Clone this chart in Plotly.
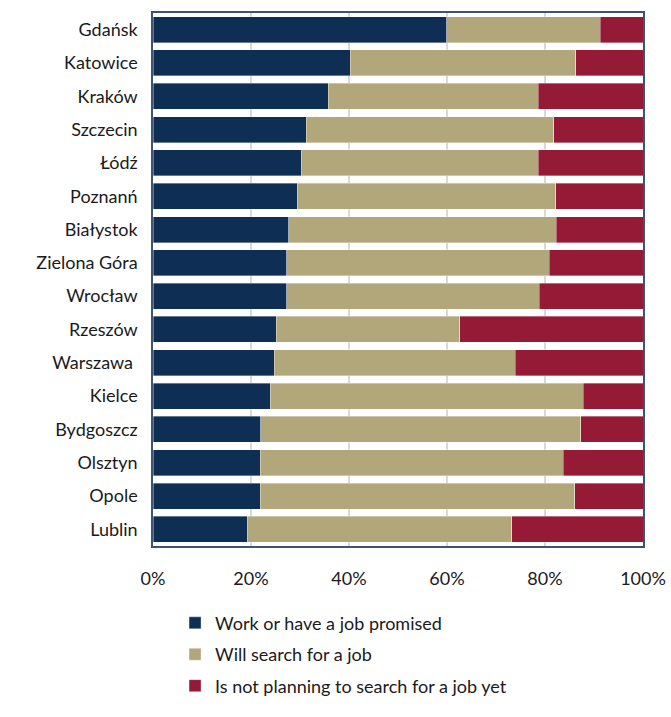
import plotly.graph_objects as go

cities = ["Gdańsk", "Katowice", "Kraków", "Szczecin", "Łódź", "Poznanń",
          "Białystok", "Zielona Góra", "Wrocław", "Rzeszów", "Warszawa ",
          "Kielce", "Bydgoszcz", "Olsztyn", "Opole", "Lublin"]

work = [59.9, 40.3, 35.8, 31.3, 30.3, 29.4, 27.7, 27.3, 27.3, 25.2, 24.7,
        23.9, 22.0, 21.9, 21.9, 19.2]
search = [31.4, 46.0, 42.8, 50.5, 48.3, 52.8, 54.6, 53.6, 51.5, 37.4, 49.2,
          63.9, 65.3, 61.8, 64.2, 54.0]
not_planning = [round(100 - w - s, 1) for w, s in zip(work, search)]

series = [
    ("Work or have a job promised", work, "#0f2e53"),
    ("Will search for a job", search, "#b1a77b"),
    ("Is not planning to search for a job yet", not_planning, "#941a36"),
]

fig = go.Figure()
for i, (name, vals, color) in enumerate(series):
    fig.add_trace(go.Bar(
        y=cities, x=vals, name=name, orientation="h",
        marker=dict(color=color, line=dict(width=0.6, color="rgba(255,255,255,0.6)")),
        legendgroup=str(i),
    ))

font_family = "Lato, Noto Sans, sans-serif"

fig.update_layout(
    barmode="stack",
    bargap=0.22,
    width=671, height=717,
    margin=dict(l=153, r=28, t=13, b=169),
    paper_bgcolor="white",
    plot_bgcolor="white",
    font=dict(family=font_family, size=18, color="#1a1a1a"),
    showlegend=True,
    legend=dict(
        orientation="v", x=0.045, xanchor="left", y=-0.11, yanchor="top",
        font=dict(size=18, color="#1a1a1a"),
        tracegroupgap=5, traceorder="grouped",
        itemwidth=30, borderwidth=0,
    ),
    xaxis=dict(
        range=[0, 100], tickvals=[0, 20, 40, 60, 80, 100],
        ticktext=["0%", "20%", "40%", "60%", "80%", "100%"],
        showgrid=True, gridcolor="#d9d9d9", gridwidth=1.5,
        showline=True, linecolor="#3d5370", linewidth=1.5, mirror=True,
        zeroline=False, ticks="", ticklabelstandoff=16,
        tickfont=dict(size=18), automargin=False,
    ),
    yaxis=dict(
        autorange="reversed",
        showline=True, linecolor="#3d5370", linewidth=1.5, mirror=True,
        ticks="", ticklabelstandoff=10,
        tickfont=dict(size=18), automargin=False,
    ),
)

fig.write_html("out.html")
